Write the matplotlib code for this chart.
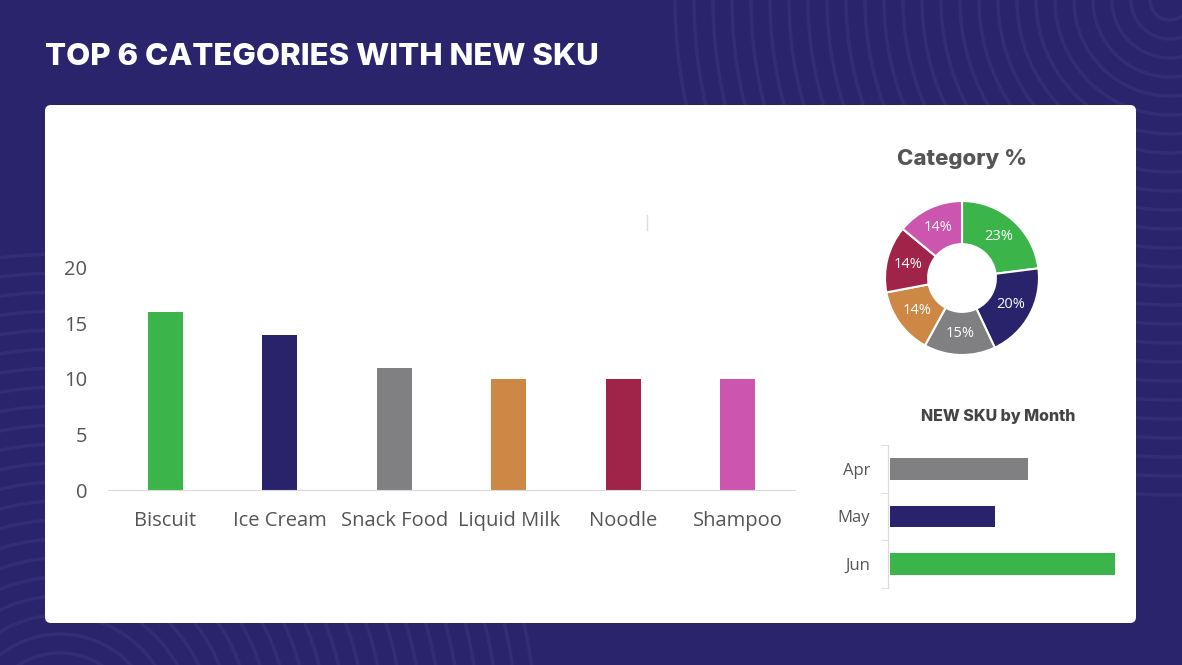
import matplotlib
matplotlib.use('Agg')
import numpy as np
import matplotlib.pyplot as plt
from matplotlib.patches import FancyBboxPatch, Circle

# data
categories = ['Biscuit', 'Ice Cream', 'Snack Food', 'Liquid Milk', 'Noodle', 'Shampoo']
new_sku = [16, 14, 11, 10, 10, 10]
cat_colors = ['#3bb44a', '#29236b', '#808083', '#cc8844', '#a0244a', '#cc55b0']

pie_pct = [23, 20, 15, 14, 14, 14]
pie_labels = ['23%', '20%', '15%', '14%', '14%', '14%']

months = ['Apr', 'May', 'Jun']
month_sku = [18.4, 14, 30]
month_colors = ['#808083', '#29236b', '#3bb44a']

bg = '#29246b'
txt = '#555555'

fig = plt.figure(figsize=(11.82, 6.65), dpi=100)
fig.patch.set_facecolor(bg)

# background layer in pixel coords
bgax = fig.add_axes([0, 0, 1, 1])
bgax.set_xlim(0, 1182)
bgax.set_ylim(665, 0)
bgax.axis('off')
for r in range(20, 500, 19):
    bgax.add_patch(Circle((1170, 0), r, fill=False, ec='#322d77', lw=2.5))
for r in range(20, 480, 19):
    bgax.add_patch(Circle((60, 730), r, fill=False, ec='#322d77', lw=2.5))
bgax.add_patch(FancyBboxPatch((45, 105), 1091, 518, boxstyle='round,pad=0,rounding_size=6',
                              fc='white', ec='none', zorder=5))
bgax.text(45, 57, 'TOP 6 CATEGORIES WITH NEW SKU', color='white', fontsize=22.5,
          fontweight='heavy', family='Inter', va='center', ha='left', zorder=6)
bgax.plot([647, 647], [215, 230], color='#dddddd', lw=1, zorder=6)

# main bar chart
ax = fig.add_axes([108/1182, 1-490/665, 687/1182, 222/665])
ax.bar(range(len(categories)), new_sku, width=0.31, color=cat_colors)
ax.set_xlim(-0.5, 5.5)
ax.set_ylim(0, 20)
ax.set_yticks([0, 5, 10, 15, 20])
ax.set_xticks(range(len(categories)))
ax.set_xticklabels(categories)
for s in ['top', 'right', 'left']:
    ax.spines[s].set_visible(False)
ax.spines['bottom'].set_color('#d9d9d9')
ax.tick_params(axis='both', length=0, colors=txt, labelsize=14.5)
ax.tick_params(axis='x', pad=15)
ax.tick_params(axis='y', pad=15)
for lab in ax.get_xticklabels() + ax.get_yticklabels():
    lab.set_family('Open Sans')
ax.set_facecolor('none')

# donut
pax = fig.add_axes([(962-77)/1182, 1-(278+77)/665, 154/1182, 154/665])
wedges, texts = pax.pie(pie_pct, colors=cat_colors, startangle=90, counterclock=False,
                        radius=1, wedgeprops=dict(width=0.56, edgecolor='white', linewidth=1.5))
for w, lab in zip(wedges, pie_labels):
    ang = np.deg2rad((w.theta1 + w.theta2) / 2)
    pax.text(0.72*np.cos(ang), 0.72*np.sin(ang), lab, ha='center', va='center',
             color='white', fontsize=10.5, family='Open Sans')
pax.set_xlim(-1, 1)
pax.set_ylim(-1, 1)
pax.set_aspect('equal')
fig.text(962/1182, 1-159/665, 'Category %', ha='center', va='center', color=txt,
         fontsize=16, fontweight='heavy', family='Inter')

# month bars
max_ = fig.add_axes([888/1182, 1-588/665, 228/1182, 143/665])
max_.barh(range(len(months)), month_sku, height=0.45, color=month_colors)
max_.set_ylim(2.5, -0.5)
max_.set_xlim(-0.3, max(month_sku) * 1.005)
max_.set_yticks(range(len(months)))
max_.set_yticklabels(months)
max_.set_yticks([-0.5, 0.5, 1.5, 2.5], minor=True)
max_.set_xticks([])
for s in ['top', 'right', 'bottom']:
    max_.spines[s].set_visible(False)
max_.spines['left'].set_color('#d9d9d9')
max_.spines['left'].set_position(('data', -0.3))
max_.tick_params(axis='y', which='major', length=0, colors=txt, labelsize=12, pad=13)
max_.tick_params(axis='y', which='minor', length=5, color='#d9d9d9')
for lab in max_.get_yticklabels():
    lab.set_family('Open Sans')
max_.set_facecolor('none')
fig.text(998/1182, 1-416/665, 'NEW SKU by Month', ha='center', va='center', color='#444444',
         fontsize=11.5, fontweight='heavy', family='Inter')

fig.savefig('out.png', dpi=100, facecolor=bg)
